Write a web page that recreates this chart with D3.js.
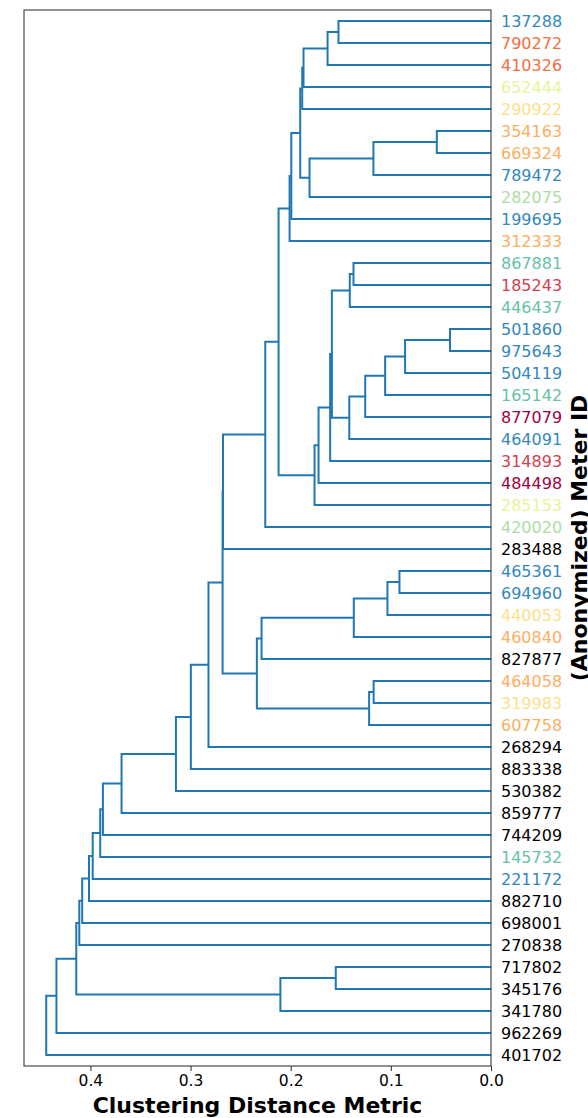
<!DOCTYPE html>
<html>
<head>
<meta charset="utf-8">
<script src="https://cdn.jsdelivr.net/npm/d3@7"></script>
<style>
  html, body { margin: 0; padding: 0; background: #fff; }
  svg { display: block; }
  text { font-family: "DejaVu Sans", sans-serif; }
</style>
</head>
<body>
<svg id="chart" width="588" height="1118"></svg>
<script>
// Leaves, top to bottom
const leaves = ["137288","790272","410326","652444","290922","354163","669324","789472","282075","199695","312333",
  "867881","185243","446437","501860","975643","504119","165142","877079","464091","314893","484498","285153","420020",
  "283488","465361","694960","440053","460840","827877","464058","319983","607758","268294","883338","530382","859777",
  "744209","145732","221172","882710","698001","270838","717802","345176","341780","962269","401702"];

const leafColors = ["#3288bd","#f46d43","#f46d43","#e6f598","#fee08b","#fdae61","#fdae61","#3288bd","#abdda4","#3288bd","#fdae61",
  "#66c2a5","#d53e4f","#66c2a5","#3288bd","#3288bd","#3288bd","#66c2a5","#9e0142","#3288bd","#d53e4f","#9e0142","#e6f598","#abdda4",
  "#000000","#3288bd","#3288bd","#fee08b","#fdae61","#000000","#fdae61","#fee08b","#fdae61","#000000","#000000","#000000","#000000",
  "#000000","#66c2a5","#3288bd","#000000","#000000","#000000","#000000","#000000","#000000","#000000","#000000"];

// Merges: [childA, childB, distance]; numbers refer to earlier merges, strings to leaves
const merges = [
  ["137288","790272",0.1523], //0
  [0,"410326",0.1632],        //1
  [1,"652444",0.1872],        //2
  [2,"290922",0.1885],        //3
  ["354163","669324",0.0541], //4
  [4,"789472",0.1174],        //5
  [5,"282075",0.1812],        //6
  [3,6,0.1905],               //7
  [7,"199695",0.1994],        //8
  [8,"312333",0.2011],        //9
  ["867881","185243",0.1373], //10
  [10,"446437",0.1410],       //11
  ["501860","975643",0.0409], //12
  [12,"504119",0.0858],       //13
  [13,"165142",0.1057],       //14
  [14,"877079",0.1256],       //15
  [15,"464091",0.1415],       //16
  [11,16,0.1589],             //17
  [17,"314893",0.1606],       //18
  [18,"484498",0.1722],       //19
  [19,"285153",0.1762],       //20
  [9,20,0.2121],              //21
  [21,"420020",0.2254],       //22
  [22,"283488",0.2676],       //23
  ["465361","694960",0.0914], //24
  [24,"440053",0.1034],       //25
  [25,"460840",0.1370],       //26
  [26,"827877",0.2291],       //27
  ["464058","319983",0.1172], //28
  [28,"607758",0.1217],       //29
  [27,29,0.2338],             //30
  [23,30,0.2680],             //31
  [31,"268294",0.2821],       //32
  [32,"883338",0.2997],       //33
  [33,"530382",0.3146],       //34
  [34,"859777",0.3689],       //35
  [35,"744209",0.3875],       //36
  [36,"145732",0.3902],       //37
  [37,"221172",0.3977],       //38
  [38,"882710",0.4014],       //39
  [39,"698001",0.4082],       //40
  [40,"270838",0.4111],       //41
  ["717802","345176",0.1550], //42
  [42,"341780",0.2103],       //43
  [41,43,0.4141],             //44
  [44,"962269",0.4339],       //45
  [45,"401702",0.4441]        //46
];

const xTicks = [0.0, 0.1, 0.2, 0.3, 0.4];
const xTickLabels = ["0.0","0.1","0.2","0.3","0.4"];
const xTitle = "Clustering Distance Metric";
const yTitle = "(Anonymized) Meter ID";

const margin = {left: 24, right: 491, top: 10, bottom: 1066};
const svg = d3.select("#chart");

const dMax = d3.max(merges, m => m[2]);
const x = d3.scaleLinear().domain([dMax * 1.05, 0]).range([margin.left, margin.right]);
const y = d3.scaleLinear().domain([0, leaves.length * 10]).range([margin.top, margin.bottom]);

// positions
const leafPos = new Map(leaves.map((l, i) => [l, {y: 5 + 10 * i, d: 0}]));
const clusterPos = [];
function pos(c) { return typeof c === "number" ? clusterPos[c] : leafPos.get(c); }

const links = [];
merges.forEach(([a, b, d]) => {
  const pa = pos(a), pb = pos(b);
  links.push([[pa.d, pa.y], [d, pa.y], [d, pb.y], [pb.d, pb.y]]);
  clusterPos.push({y: (pa.y + pb.y) / 2, d: d});
});

const line = d3.line().x(p => x(p[0])).y(p => y(p[1]));

svg.append("g")
  .selectAll("path")
  .data(links)
  .join("path")
  .attr("d", line)
  .attr("fill", "none")
  .attr("stroke", "#1f77b4")
  .attr("stroke-width", 2)
  .attr("stroke-linejoin", "miter")
  .attr("stroke-linecap", "butt");

// frame
svg.append("rect")
  .attr("x", margin.left).attr("y", margin.top)
  .attr("width", margin.right - margin.left).attr("height", margin.bottom - margin.top)
  .attr("fill", "none").attr("stroke", "#3a3a3a").attr("stroke-width", 1.1);

// x axis
const xAxis = d3.axisBottom(x).tickValues(xTicks).tickFormat((d, i) => xTickLabels[i]).tickSize(5).tickPadding(4);
const gx = svg.append("g").attr("transform", `translate(0,${margin.bottom})`).call(xAxis);
gx.select(".domain").remove();
gx.selectAll(".tick line").attr("stroke", "#3a3a3a").attr("stroke-width", 1.1);
gx.selectAll(".tick text").attr("font-size", 15.5).attr("fill", "#000").attr("font-family", "DejaVu Sans");

// y axis (leaf labels on the right, no tick lines)
const yAxis = d3.axisRight(y).tickValues(leaves.map((l, i) => 5 + 10 * i))
  .tickFormat((d, i) => leaves[i]).tickSize(0).tickPadding(10);
const gy = svg.append("g").attr("transform", `translate(${margin.right},0)`).call(yAxis);
gy.select(".domain").remove();
gy.selectAll(".tick text").attr("font-size", 16).attr("font-family", "DejaVu Sans")
  .attr("fill", (d, i) => leafColors[i]);

// titles
svg.append("text")
  .attr("x", (margin.left + margin.right) / 2).attr("y", 1113)
  .attr("text-anchor", "middle").attr("font-size", 22).attr("font-weight", "bold")
  .attr("fill", "#000").text(xTitle);

svg.append("text")
  .attr("transform", `translate(587,${(margin.top + margin.bottom) / 2}) rotate(-90)`)
  .attr("text-anchor", "middle").attr("font-size", 22).attr("font-weight", "bold")
  .attr("fill", "#000").text(yTitle);
</script>
</body>
</html>
